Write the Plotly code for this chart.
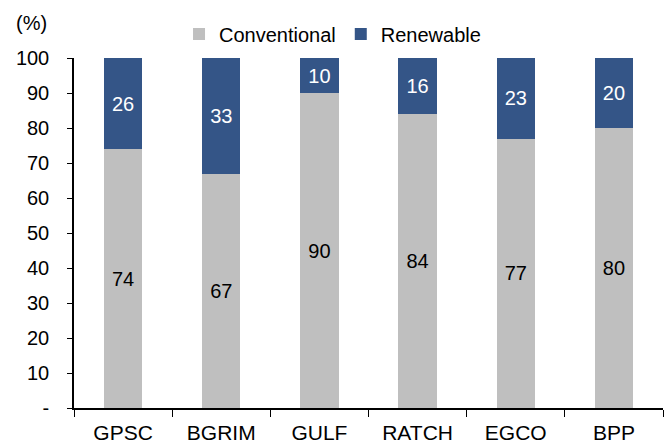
import plotly.graph_objects as go

categories = ["GPSC", "BGRIM", "GULF", "RATCH", "EGCO", "BPP"]
conventional = [74, 67, 90, 84, 77, 80]
renewable = [26, 33, 10, 16, 23, 20]
ytick_vals = [0, 10, 20, 30, 40, 50, 60, 70, 80, 90, 100]
ytick_text = ["-", "10", "20", "30", "40", "50", "60", "70", "80", "90", "100"]

FONT = "Liberation Sans, Arial, sans-serif"
GRAY = "#BFBFBF"
BLUE = "#345587"

fig = go.Figure()
fig.add_trace(go.Bar(
    x=categories, y=conventional, name="Conventional",
    marker=dict(color=GRAY, line=dict(width=0)),
    text=[str(v) for v in conventional], textposition="inside",
    insidetextanchor="middle", textangle=0,
    textfont=dict(family=FONT, size=20, color="black"),
))
fig.add_trace(go.Bar(
    x=categories, y=renewable, name="Renewable",
    marker=dict(color=BLUE, line=dict(width=0)),
    text=[str(v) for v in renewable], textposition="inside",
    insidetextanchor="middle", textangle=0,
    textfont=dict(family=FONT, size=20, color="white"),
))

fig.update_layout(
    barmode="stack",
    bargap=0.61,
    width=668, height=443,
    margin=dict(l=74, r=5, t=58, b=35, autoexpand=False),
    paper_bgcolor="white", plot_bgcolor="white",
    font=dict(family=FONT, size=20, color="black"),
    uniformtext=dict(minsize=20, mode="show"),
    showlegend=True,
    legend=dict(
        orientation="h", x=0.268, y=0.923, xref="container", yref="container",
        xanchor="left", yanchor="middle",
        font=dict(family=FONT, size=20, color="black"),
        itemwidth=30, traceorder="normal", bgcolor="rgba(0,0,0,0)",
    ),
    xaxis=dict(
        showline=True, linecolor="black", linewidth=1.5,
        ticks="outside", tickson="boundaries", ticklen=7, tickcolor="black",
        tickfont=dict(family=FONT, size=21, color="black"),
        ticklabelstandoff=5,
        showgrid=False,
    ),
    yaxis=dict(
        range=[0, 100], tickvals=ytick_vals, ticktext=ytick_text,
        showline=True, linecolor="black", linewidth=1.5,
        ticks="outside", ticklen=5, tickcolor="black",
        tickfont=dict(family=FONT, size=20, color="black"),
        ticklabelstandoff=14,
        showgrid=False, zeroline=False,
    ),
)
fig.add_annotation(
    text="(%)", xref="paper", yref="paper",
    x=-0.102, y=1.1, xanchor="left", yanchor="middle",
    showarrow=False, font=dict(family=FONT, size=20, color="black"),
)

fig.write_html("out.html")
